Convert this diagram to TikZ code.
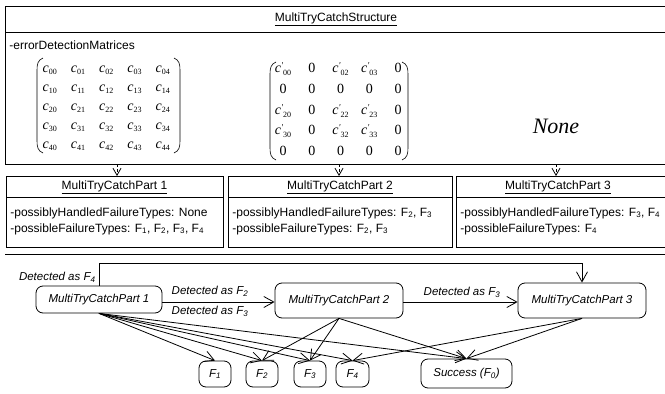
\documentclass[tikz,border=0pt]{standalone}
\usepackage{fontspec}
\setmainfont{Liberation Sans}
\newfontfamily\tms{Liberation Serif}
\usetikzlibrary{arrows.meta,matrix}
\newcommand\mc[1]{\mbox{\tms\itshape c}_{\mbox{\tms\fontsize{8}{8}\selectfont #1}}}
\newcommand\mcp[1]{\mbox{\tms\itshape c\fontsize{9}{9}\selectfont\raisebox{4pt}{'}\raisebox{-3pt}{\upshape\fontsize{8}{8}\selectfont #1}}}
\newcommand\zr{\mbox{\tms 0}}
\begin{document}
\begin{tikzpicture}[x=1pt,y=-1pt,line width=0.8pt,
  txt/.style={font=\fontsize{12}{14}\selectfont, inner sep=0pt},
  lab/.style={font=\fontsize{11.5}{13}\selectfont\itshape, inner sep=1pt},
  state/.style={draw, rounded corners=7pt, inner sep=0pt, font=\fontsize{11.5}{13}\selectfont\itshape},
  arr/.style={-{Straight Barb[length=10pt,width=11pt]}},
  darr/.style={dash pattern=on 3pt off 2pt, -{Straight Barb[length=7pt,width=8pt]}},
  paren/.style={line width=0.6pt},
  mat/.style={matrix of math nodes, inner sep=0pt,
    nodes={inner sep=0pt, anchor=center, text height=8pt, text depth=3pt, font=\fontsize{14}{14}\selectfont}}]
\useasboundingbox[fill=white] (0,0) rectangle (665,394);
% top class box
\draw (5,6) rectangle (668,164);
\draw (5,32) -- (668,32);
\node[txt] (title) at (336,19) {\underline{MultiTryCatchStructure}};
\node[txt, anchor=west] (edm) at (9,45) {-errorDetectionMatrices};
\matrix (m1) [mat, nodes={minimum width=28.25pt, minimum height=19pt}] at (106.5,108) {
\mc{00} & \mc{01} & \mc{02} & \mc{03} & \mc{04}\\
\mc{10} & \mc{11} & \mc{12} & \mc{13} & \mc{14}\\
\mc{20} & \mc{21} & \mc{22} & \mc{23} & \mc{24}\\
\mc{30} & \mc{31} & \mc{32} & \mc{33} & \mc{34}\\
\mc{40} & \mc{41} & \mc{42} & \mc{43} & \mc{44}\\
};
\matrix (m2) [mat, nodes={minimum width=28.75pt, minimum height=20.75pt}] at (340.5,111.5) {
\mcp{00} & \zr & \mcp{02} & \mcp{03} & \zr\\
\zr & \zr & \zr & \zr & \zr\\
\mcp{20} & \zr & \mcp{22} & \mcp{23} & \zr\\
\mcp{30} & \zr & \mcp{32} & \mcp{33} & \zr\\
\zr & \zr & \zr & \zr & \zr\\
};
% parentheses
\draw[paren] (43,58) .. controls (38,60) and (37,64) .. (37,70) -- (37,141) .. controls (37,147) and (38,151) .. (43,153);
\draw[paren] (174,58) .. controls (179,60) and (180,64) .. (180,70) -- (180,141) .. controls (180,147) and (179,151) .. (174,153);
\draw[paren] (276,62) .. controls (271,64) and (270,68) .. (270,74) -- (270,148) .. controls (270,154) and (271,158) .. (276,160);
\draw[paren] (402,62) .. controls (407,64) and (408,68) .. (408,74) -- (408,148) .. controls (408,154) and (407,158) .. (402,160);
\node[font=\fontsize{22}{24}\selectfont\tms\itshape, inner sep=0pt] (none) at (556,126) {None};
% part boxes
\draw (6,176) rectangle (223,247);
\draw (6,197) -- (223,197);
\draw (228,176) rectangle (452,247);
\draw (228,197) -- (452,197);
\draw (456,176) rectangle (668,247);
\draw (456,197) -- (668,197);
\node[txt] (pt1) at (114.5,187) {\underline{MultiTryCatchPart 1}};
\node[txt] (pt2) at (340,187) {\underline{MultiTryCatchPart 2}};
\node[txt] (pt3) at (558,187) {\underline{MultiTryCatchPart 3}};
\node[txt, anchor=west] (a1) at (10,213) {-possiblyHandledFailureTypes: None};
\node[txt, anchor=west] (b1) at (10,229) {-possibleFailureTypes: F\textsubscript{1}, F\textsubscript{2}, F\textsubscript{3}, F\textsubscript{4}};
\node[txt, anchor=west] (a2) at (232,213) {-possiblyHandledFailureTypes: F\textsubscript{2}, F\textsubscript{3}};
\node[txt, anchor=west] (b2) at (232,229) {-possibleFailureTypes: F\textsubscript{2}, F\textsubscript{3}};
\node[txt, anchor=west] (a3) at (460,213) {-possiblyHandledFailureTypes: F\textsubscript{3}, F\textsubscript{4}};
\node[txt, anchor=west] (b3) at (460,229) {-possibleFailureTypes: F\textsubscript{4}};
% dashed dependencies
\coordinate (d1s) at (117,164); \coordinate (d1e) at (117,176);
\coordinate (d2s) at (339,164); \coordinate (d2e) at (339,176);
\coordinate (d3s) at (556,164); \coordinate (d3e) at (556,176);
\draw[darr] (d1s) -- (d1e);
\draw[darr] (d2s) -- (d2e);
\draw[darr] (d3s) -- (d3e);
% separator
\draw (5,254) -- (668,254);
% state diagram
\node[state, minimum width=126pt, minimum height=27pt] (p1) at (99,299.5) {MultiTryCatchPart 1};
\node[state, minimum width=128pt, minimum height=35pt] (p2) at (339,300.5) {MultiTryCatchPart 2};
\node[state, minimum width=128pt, minimum height=35pt] (p3) at (582,300.5) {MultiTryCatchPart 3};
\node[state, minimum width=32pt, minimum height=26pt] (f1) at (215,374) {F\textsubscript{1}};
\node[state, minimum width=32pt, minimum height=26pt] (f2) at (262,374) {F\textsubscript{2}};
\node[state, minimum width=32pt, minimum height=26pt] (f3) at (310,374) {F\textsubscript{3}};
\node[state, minimum width=33pt, minimum height=26pt] (f4) at (352.5,374) {F\textsubscript{4}};
\node[state, minimum width=91pt, minimum height=29pt] (s0) at (466.5,373.5) {Success (F\textsubscript{0})};
\coordinate (topy) at (0,263);
\draw[arr] (p1.north) -- (p1.north |- topy) -- (p3.north |- topy) -- (p3.north);
\node[lab, anchor=east] (l4) at (97,277) {Detected as F\textsubscript{4}};
\draw[arr] (p1.east |- 0,302) -- (p2.west |- 0,302);
\node[lab] (l2) at (210,291) {Detected as F\textsubscript{2}};
\node[lab] (l3) at (210,311) {Detected as F\textsubscript{3}};
\draw[arr] (p2.east |- 0,302) -- (p3.west |- 0,302);
\node[lab] (l5) at (462,292) {Detected as F\textsubscript{3}};
\foreach \t in {f1,f2,f3,f4,s0} \draw[arr] (p1.south) -- (\t.north);
\foreach \t in {f2,f3,s0} \draw[arr] (p2.south) -- (\t.north);
\foreach \t in {f4,s0} \draw[arr] (p3.south) -- (\t.north);
\end{tikzpicture}
\end{document}
